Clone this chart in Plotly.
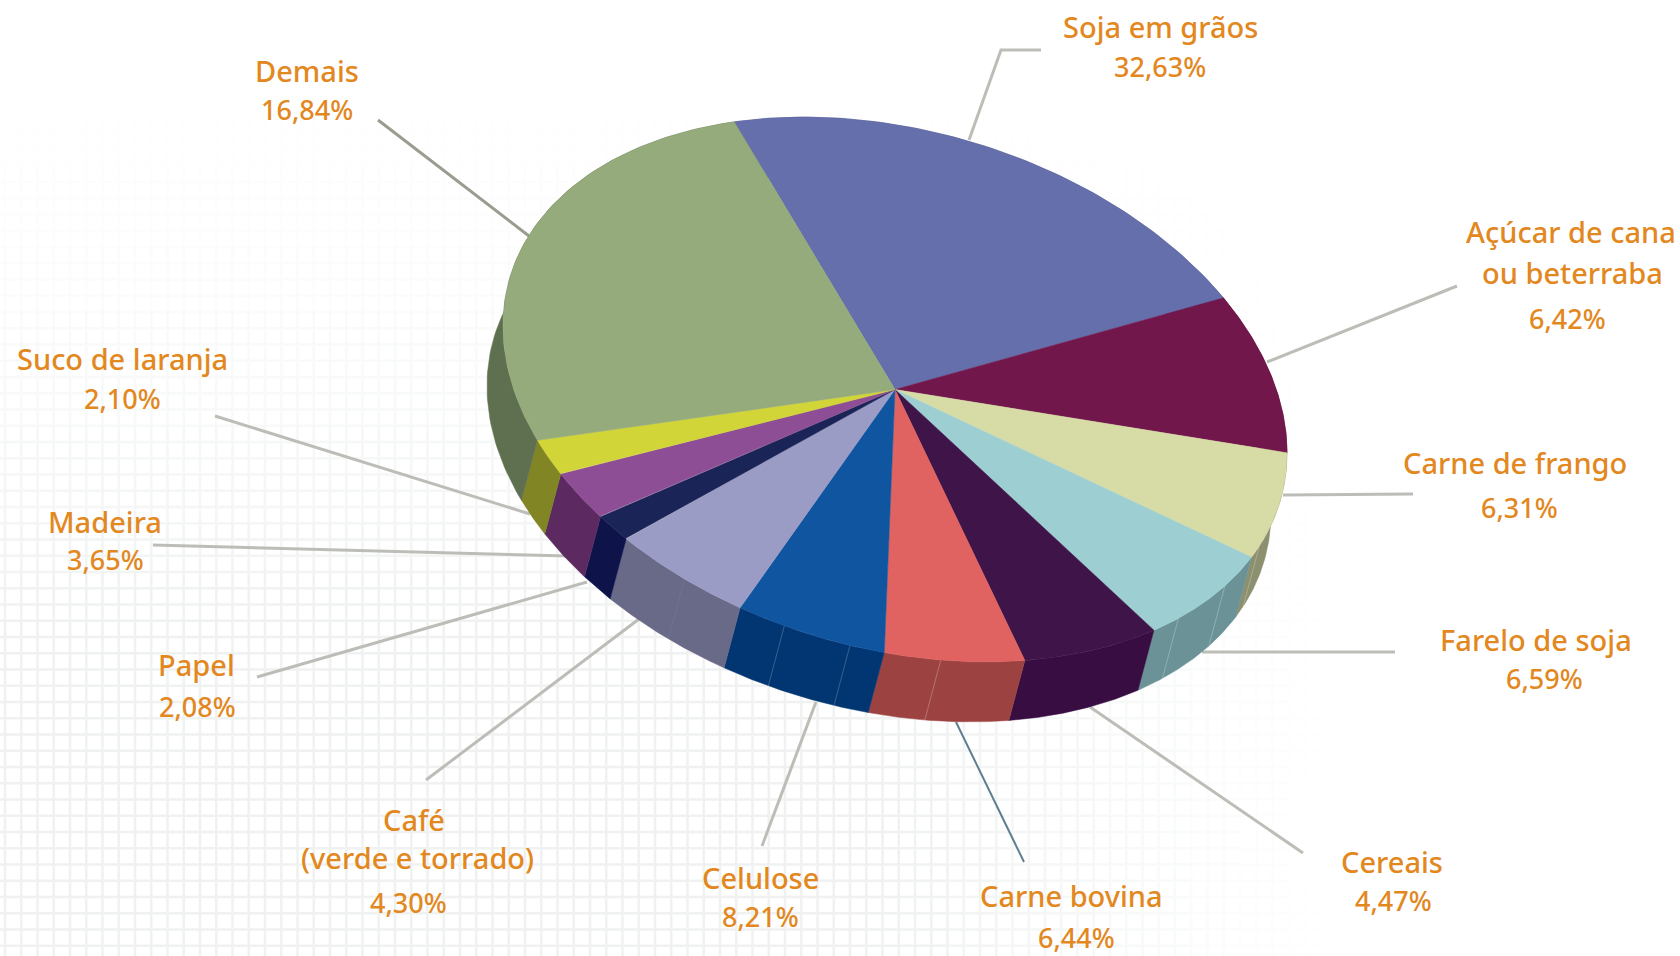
import math
import numpy as np
import plotly.graph_objects as go

# Slices clockwise from the top. label_pct is the printed text; drawn_share is
# the share of the circle each slice really occupies in the picture.
categories = ["Soja em grãos", "Açúcar de cana<br>ou beterraba", "Carne de frango", "Farelo de soja",
              "Cereais", "Carne bovina", "Celulose", "Café<br>(verde e torrado)", "Papel",
              "Madeira", "Suco de laranja", "Demais"]
label_pct = ["32,63%", "6,42%", "6,31%", "6,59%", "4,47%", "6,44%", "8,21%", "4,30%", "2,08%",
             "3,65%", "2,10%", "16,84%"]
drawn_share = [22.53, 9.19, 6.83, 6.69, 6.11, 5.81, 6.03, 5.56, 1.50, 2.72, 2.03, 25.00]
top_colors = ["#656FAB", "#71174B", "#D7DBA5", "#9DCFD2", "#3F1549", "#E06361",
              "#1055A0", "#9B9CC5", "#1B2457", "#8E4E95", "#D1D537", "#95AB7B"]
wall_colors = ["#4C5480", "#551138", "#8C906F", "#6B9397", "#370D42", "#9C4342",
               "#023672", "#696A88", "#0E144A", "#5C2A60", "#818524", "#5E704F"]

# Each printed line of text: (text, x centre, y centre, is_number) in page pixels
label_lines = [
    ("Soja em grãos", 1160, 26, 0), ("32,63%", 1160, 66, 1),
    ("Açúcar de cana", 1571, 231, 0), ("ou beterraba", 1572, 272, 0), ("6,42%", 1567, 318, 1),
    ("Carne de frango", 1515, 462, 0), ("6,31%", 1519, 507, 1),
    ("Farelo de soja", 1536, 639, 0), ("6,59%", 1544, 678, 1),
    ("Cereais", 1392, 861, 0), ("4,47%", 1393, 900, 1),
    ("Carne bovina", 1071, 895, 0), ("6,44%", 1076, 937, 1),
    ("Celulose", 760, 877, 0), ("8,21%", 760, 916, 1),
    ("Café", 414, 819, 0), ("(verde e torrado)", 417, 857, 0), ("4,30%", 408, 902, 1),
    ("Papel", 196, 664, 0), ("2,08%", 197, 706, 1),
    ("Madeira", 105, 521, 0), ("3,65%", 105, 559, 1),
    ("Suco de laranja", 122, 358, 0), ("2,10%", 122, 398, 1),
    ("Demais", 307, 70, 0), ("16,84%", 307, 109, 1),
]
# Leader lines: (x list, y list, colour, width)
leaders = [
    ([1041, 1001, 969], [50, 50, 140], "#BDBDB8", 3),
    ([1457, 1267], [286, 362], "#BDBDB8", 3),
    ([1413, 1283], [494, 495], "#BDBDB8", 3),
    ([1395, 1202], [652, 652], "#BDBDB8", 3),
    ([1303, 1090], [853, 707], "#BDBDB8", 3),
    ([1024, 956], [862, 722], "#5F7F8E", 2),
    ([762, 816], [846, 702], "#BDBDB8", 3),
    ([426, 639], [780, 619], "#BDBDB8", 3),
    ([257, 587], [677, 582], "#BDBDB8", 3),
    ([153, 568], [545, 556], "#BDBDB8", 3),
    ([215, 530], [416, 514], "#BDBDB8", 3),
    ([378, 529], [120, 236], "#9A9C90", 3),
]
# Thin seams visible on the side wall (true circle angle in degrees, seam opacity)
facet_angles = [(-11.2, 0.35), (-22.2, 0.35), (-33.2, 0.35), (-72.8, 0.35),
                (-86.1, 0.3), (-95.9, 0.3), (-112.0, 0.08)]

CX, CY = 895.0, 389.5
A, B = 401.0, 259.0
PHI = math.radians(-16.0)
START = 124.7
DX, DY = -16.0, 60.0


def project(theta_deg):
    t = np.radians(theta_deg)
    u, v = A * np.cos(t), B * np.sin(t)
    x = u * math.cos(PHI) - v * math.sin(PHI)
    y = u * math.sin(PHI) + v * math.cos(PHI)
    return CX + x, CY - y


fig = go.Figure()

# Faint background grid, fading toward the top and the right
levels = 10
seg = {i: ([], []) for i in range(levels)}


def strength(x, y):
    sx = min(max((1335 - x) / 480, 0), 1)
    sy = min(max((y - 40) / 620, 0), 1) ** 1.5
    return sx * sy


STEP = 16.25
xs = [5 + STEP * k for k in range(-1, 100)]
ys = [702 - STEP * k for k in range(-20, 45)]
for gx in xs:
    for gy in ys:
        for (x0, y0, x1, y1) in ((gx, gy, gx + STEP, gy), (gx, gy, gx, gy + STEP)):
            s = strength((x0 + x1) / 2, (y0 + y1) / 2)
            if s > 0.04:
                i = min(int(s * levels), levels - 1)
                seg[i][0].extend([x0, x1, None])
                seg[i][1].extend([y0, y1, None])
for i in range(levels):
    s = (i + 0.5) / levels
    c = [round(255 + (t - 255) * s) for t in (239, 241, 241)]
    fig.add_trace(go.Scatter(x=seg[i][0], y=seg[i][1], mode="lines", hoverinfo="skip",
                             line=dict(color=f"rgb({c[0]},{c[1]},{c[2]})", width=2.6)))

for lx, ly, col, w in leaders:
    fig.add_trace(go.Scatter(x=lx, y=ly, mode="lines", hoverinfo="skip",
                             line=dict(color=col, width=w)))

# Slice boundaries from the shares
bounds = [START]
for sh in drawn_share:
    bounds.append(bounds[-1] - sh / sum(drawn_share) * 360.0)

# Side walls
for i in range(len(categories)):
    th = np.linspace(bounds[i], bounds[i + 1], 90)
    px, py = project(th)
    wx = np.concatenate([px, (px + DX)[::-1], px[:1]])
    wy = np.concatenate([py, (py + DY)[::-1], py[:1]])
    fig.add_trace(go.Scatter(x=wx, y=wy, mode="lines", fill="toself", fillcolor=wall_colors[i],
                             hoverinfo="skip", line=dict(color=wall_colors[i], width=0.5)))

for a, op in facet_angles:
    px, py = project(np.array([a]))
    fig.add_trace(go.Scatter(x=[px[0], px[0] + DX], y=[py[0], py[0] + DY], mode="lines",
                             hoverinfo="skip",
                             line=dict(color=f"rgba(255,255,255,{op})", width=0.7)))

# Top faces
for i in range(len(categories)):
    th = np.linspace(bounds[i], bounds[i + 1], 90)
    px, py = project(th)
    fx = np.concatenate([[CX], px, [CX]])
    fy = np.concatenate([[CY], py, [CY]])
    fig.add_trace(go.Scatter(x=fx, y=fy, mode="lines", fill="toself", fillcolor=top_colors[i],
                             line=dict(color=top_colors[i], width=0.5), hoverinfo="text",
                             text=categories[i] + " " + label_pct[i]))

for text, x, y, is_num in label_lines:
    fig.add_annotation(x=x, y=y, text=text, showarrow=False, xanchor="center", yanchor="middle",
                       font=dict(family="Noto Sans", size=27 if is_num else 29, weight=500,
                                 color="#E2881F"))

fig.update_layout(
    width=1680, height=956, margin=dict(l=0, r=0, t=0, b=0), showlegend=False,
    paper_bgcolor="white", plot_bgcolor="white",
    xaxis=dict(range=[0, 1680], visible=False, fixedrange=True),
    yaxis=dict(range=[956, 0], visible=False, fixedrange=True),
)
fig.write_html("out.html", config={"displayModeBar": False},
               post_script="document.body.style.margin='0';document.body.style.overflow='hidden';")
